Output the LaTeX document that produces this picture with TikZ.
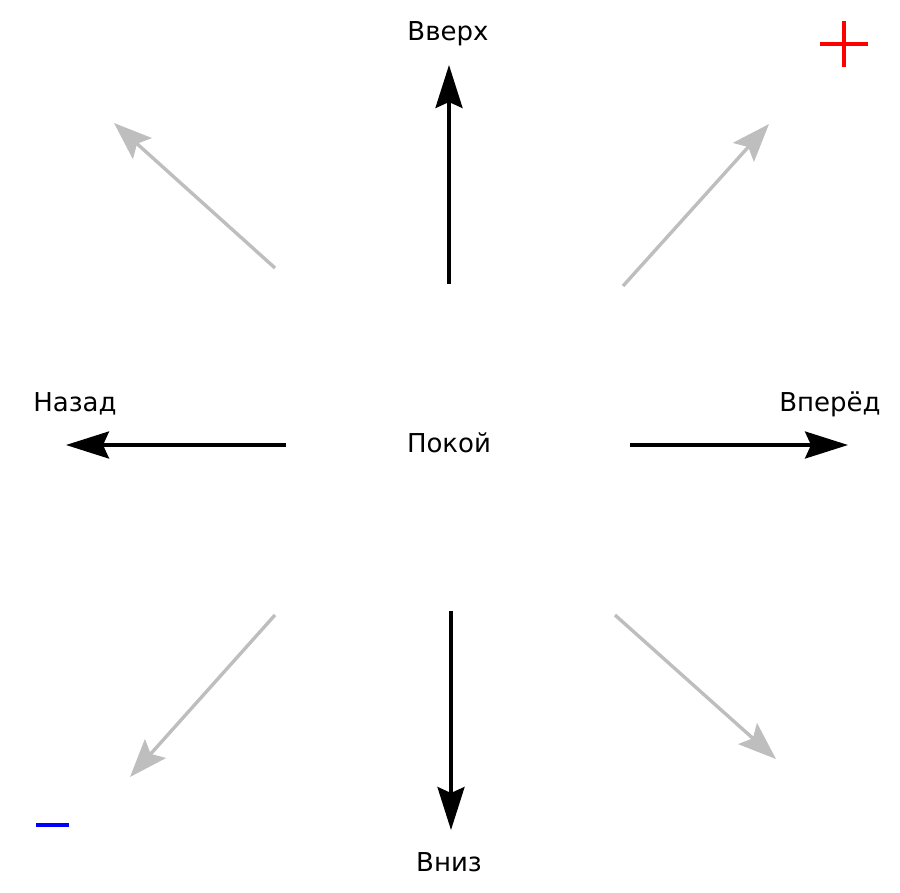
\documentclass[tikz,border=0pt]{standalone}
\usepackage{fontspec}
\setmainfont{DejaVu Sans}
\usetikzlibrary{arrows.meta}
\tikzset{
  mainarrow/.style={line width=3.4pt, black, -{Stealth[length=43pt,width=27pt,inset=6pt]}},
  sidearrow/.style={line width=3.4pt, color={rgb,255:red,190;green,190;blue,190}, -{Stealth[length=38pt,width=28pt,inset=7pt]}},
  lbl/.style={font=\fontsize{26}{29}\selectfont, inner sep=0pt, anchor=center}
}
\begin{document}
\begin{tikzpicture}[x=1pt,y=-1pt]
\useasboundingbox (0,0) rectangle (900,892);
% labels
\node[lbl] (up) at (448,34) {Вверх};
\node[lbl] (back) at (75,404) {Назад};
\node[lbl] (fwd) at (830,404) {Вперёд};
\node[lbl] (rest) at (449,443) {Покой};
\node[lbl] (down) at (449,862) {Вниз};
% coordinates
\coordinate (us) at (449,284); \coordinate (ue) at (449,65);
\coordinate (ds) at (451,611); \coordinate (de) at (451,830);
\coordinate (ls) at (286,445); \coordinate (le) at (66,445);
\coordinate (rs) at (630,445); \coordinate (re) at (848,445);
\coordinate (uls) at (275,268); \coordinate (ule) at (114,123);
\coordinate (urs) at (623,286); \coordinate (ure) at (769,124);
\coordinate (lls) at (275,615); \coordinate (lle) at (130,777);
\coordinate (lrs) at (615,615); \coordinate (lre) at (776,759);
\draw[mainarrow] (us) -- (ue);
\draw[mainarrow] (ds) -- (de);
\draw[mainarrow] (ls) -- (le);
\draw[mainarrow] (rs) -- (re);
\draw[sidearrow] (uls) -- (ule);
\draw[sidearrow] (urs) -- (ure);
\draw[sidearrow] (lls) -- (lle);
\draw[sidearrow] (lrs) -- (lre);
% plus and minus
\coordinate (pl) at (820,44); \coordinate (pr) at (868,44);
\coordinate (pt) at (844,21); \coordinate (pb) at (844,67);
\draw[line width=4pt, red] (pl) -- (pr);
\draw[line width=4pt, red] (pt) -- (pb);
\coordinate (ml) at (36,825); \coordinate (mr) at (69,825);
\draw[line width=3.5pt, blue] (ml) -- (mr);
\end{tikzpicture}
\end{document}
